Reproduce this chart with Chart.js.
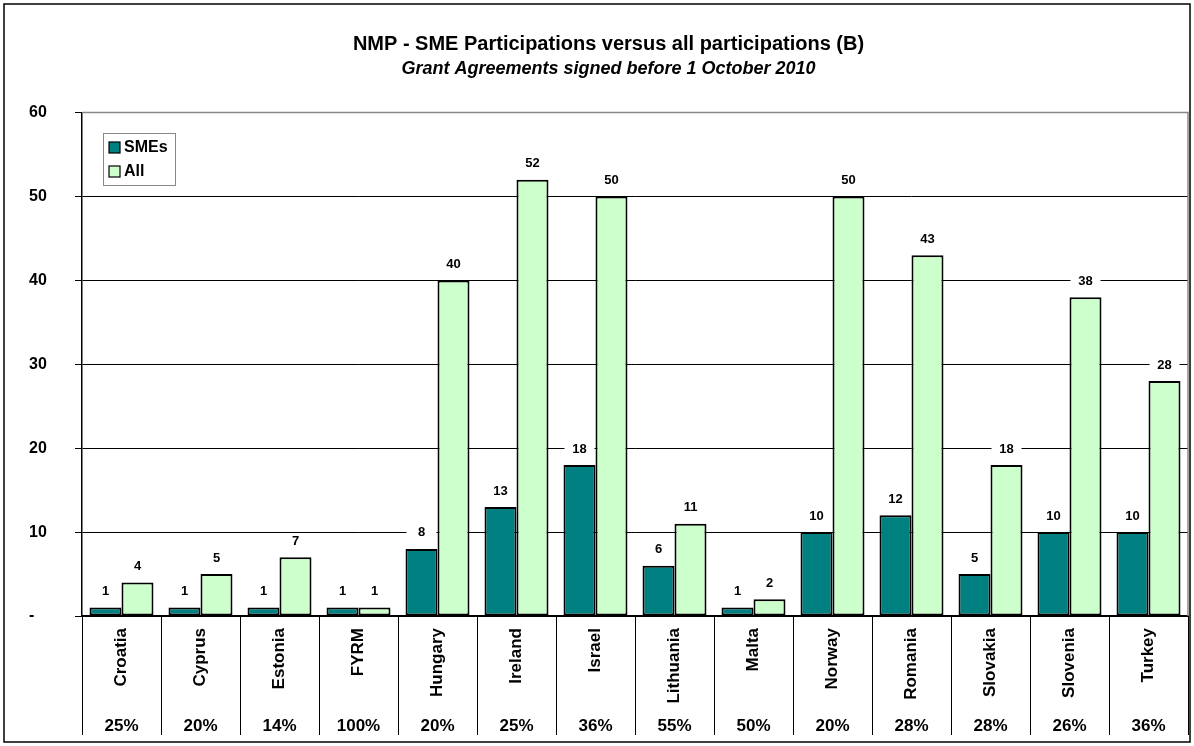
<!DOCTYPE html>
<html>
<head>
<meta charset="utf-8">
<script src="https://cdn.jsdelivr.net/npm/chart.js@4/dist/chart.umd.min.js"></script>
<style>
  html, body { margin: 0; padding: 0; background: #fff; }
  #wrap { width: 1194px; height: 746px; }
</style>
</head>
<body>
<div id="wrap"><canvas id="myChart" width="1194" height="746"></canvas></div>
<script>
const countries = ['Croatia', 'Cyprus', 'Estonia', 'FYRM', 'Hungary', 'Ireland', 'Israel',
    'Lithuania', 'Malta', 'Norway', 'Romania', 'Slovakia', 'Slovenia', 'Turkey'];
const smeValues = [1, 1, 1, 1, 8, 13, 18, 6, 1, 10, 12, 5, 10, 10];
const allValues = [4, 5, 7, 1, 40, 52, 50, 11, 2, 50, 43, 18, 38, 28];
const smeShares = ['25%', '20%', '14%', '100%', '20%', '25%', '36%', '55%', '50%', '20%', '28%', '28%', '26%', '36%'];
const yTickValues = [0, 10, 20, 30, 40, 50, 60];

const FONT = 'Arial, "Liberation Sans", sans-serif';

// white page, outer frame, table under the axis, value labels and legend box
const decorations = {
    id: 'decorations',
    beforeDraw(chart) {
        const c = chart.ctx;
        c.save();
        c.fillStyle = '#fff';
        c.fillRect(0, 0, chart.width, chart.height);
        c.restore();
    },
    afterDatasetsDraw(chart) {
        const c = chart.ctx;
        c.save();
        c.font = 'bold 13px ' + FONT;
        c.textAlign = 'center';
        c.textBaseline = 'middle';
        chart.data.datasets.forEach((ds, i) => {
            chart.getDatasetMeta(i).data.forEach((bar, j) => {
                const w = bar.width;
                const cy = bar.y - 16;
                c.fillStyle = '#fff';
                c.fillRect(bar.x - w / 2 + 1, cy - 8, w - 2, 16);
                c.fillStyle = '#000';
                c.fillText(String(ds.data[j]), bar.x, cy);
            });
        });
        c.restore();
    },
    afterDraw(chart) {
        const c = chart.ctx;
        const area = chart.chartArea;
        const x = chart.scales.x;
        c.save();
        // plot frame top/right in grey
        c.strokeStyle = '#888';
        c.lineWidth = 1.5;
        c.beginPath();
        c.moveTo(area.left, area.top);
        c.lineTo(area.right, area.top);
        c.lineTo(area.right, area.bottom);
        c.stroke();

        // category table lines
        const tableBottom = 735;
        c.strokeStyle = '#000';
        c.lineWidth = 1;
        const step = (area.right - area.left) / countries.length;
        for (let i = 0; i <= countries.length; i++) {
            const px = Math.round(area.left + i * step) + 0.5;
            c.beginPath();
            c.moveTo(px, area.bottom);
            c.lineTo(px, tableBottom);
            c.stroke();
        }
        c.font = 'bold 17px ' + FONT;
        c.fillStyle = '#000';
        c.textAlign = 'center';
        c.textBaseline = 'middle';
        smeShares.forEach((s, i) => {
            c.fillText(s, x.getPixelForValue(i), 726);
        });

        // legend
        const lx = 103, ly = 133, lw = 72, lh = 52;
        c.fillStyle = '#fff';
        c.fillRect(lx, ly, lw, lh);
        c.strokeStyle = '#888';
        c.lineWidth = 1;
        c.strokeRect(lx + 0.5, ly + 0.5, lw, lh);
        c.font = 'bold 16px ' + FONT;
        c.textAlign = 'left';
        chart.data.datasets.forEach((ds, i) => {
            const cy = ly + 15 + i * 24;
            c.fillStyle = ds.backgroundColor;
            c.fillRect(lx + 6, cy - 6, 11, 11);
            c.strokeStyle = '#000';
            c.lineWidth = 1.2;
            c.strokeRect(lx + 6, cy - 6, 11, 11);
            c.fillStyle = '#000';
            c.fillText(ds.label, lx + 21, cy);
        });

        // outer frame
        c.strokeStyle = '#000';
        c.lineWidth = 1.5;
        c.strokeRect(4, 4, chart.width - 8, chart.height - 8);
        c.restore();
    }
};

const ctx = document.getElementById('myChart').getContext('2d');
const myChart = new Chart(ctx, {
    type: 'bar',
    data: {
        labels: countries,
        datasets: [{
            label: 'SMEs',
            data: smeValues,
            backgroundColor: '#008080',
            borderColor: '#000',
            borderWidth: 2,
            borderSkipped: false,
            categoryPercentage: 0.81,
            barPercentage: 1.0
        }, {
            label: 'All',
            data: allValues,
            backgroundColor: '#CCFFCC',
            borderColor: '#000',
            borderWidth: 2,
            borderSkipped: false,
            categoryPercentage: 0.81,
            barPercentage: 1.0
        }]
    },
    options: {
        responsive: false,
        animation: false,
        layout: {
            padding: { left: 29, right: 6, top: 0, bottom: 10 }
        },
        plugins: {
            legend: { display: false },
            tooltip: { enabled: false },
            title: {
                display: true,
                text: 'NMP - SME Participations versus all participations (B)',
                color: '#000',
                font: { family: FONT, size: 20, weight: 'bold' },
                padding: { top: 32, bottom: 2 }
            },
            subtitle: {
                display: true,
                text: 'Grant Agreements signed before 1 October 2010',
                color: '#000',
                font: { family: FONT, size: 18, weight: 'bold', style: 'italic' },
                padding: { top: 0, bottom: 33 }
            }
        },
        scales: {
            x: {
                grid: { drawOnChartArea: false, drawTicks: false },
                border: { display: true, color: '#000', width: 1.5 },
                ticks: {
                    color: '#000',
                    font: { family: FONT, size: 17, weight: 'bold' },
                    minRotation: 90,
                    maxRotation: 90,
                    autoSkip: false,
                    padding: 12
                },
                afterFit(scale) { scale.height = 120; }
            },
            y: {
                min: 0,
                max: 60,
                afterBuildTicks(scale) {
                    scale.ticks = yTickValues.map(v => ({ value: v }));
                },
                grid: {
                    color: (c) => c.tick && c.tick.value === 60 ? '#888' : '#000',
                    lineWidth: 1,
                    tickLength: 7,
                    tickColor: '#000'
                },
                border: { display: true, color: '#000', width: 1.5 },
                ticks: {
                    color: '#000',
                    font: { family: FONT, size: 16, weight: 'bold' },
                    crossAlign: 'far',
                    callback: (v) => v === 0 ? '-' : String(v)
                },
                afterFit(scale) { scale.width = 53; }
            }
        }
    },
    plugins: [decorations]
});
</script>
</body>
</html>
